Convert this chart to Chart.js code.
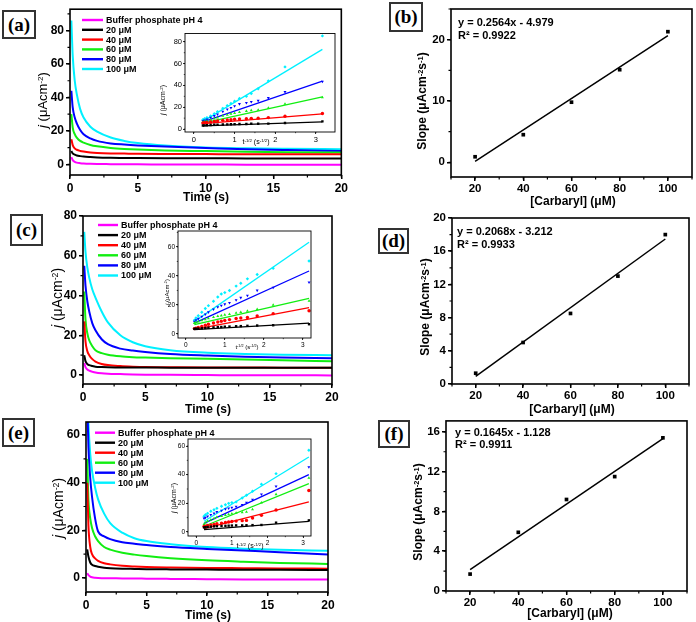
<!DOCTYPE html>
<html>
<head>
<meta charset="utf-8">
<script src="https://cdn.jsdelivr.net/npm/chart.js@4.4.1/dist/chart.umd.min.js"></script>
<style>
  body { margin: 0; width: 696px; height: 622px; background: #fff; position: relative; overflow: hidden;
         font-family: "Liberation Sans", Arial, sans-serif; color: #000; }
  canvas { position: absolute; }
  .lbl { position: absolute; box-sizing: border-box; border: 2px solid #333; background: #fff;
         font: bold 19px "Liberation Serif", "Times New Roman", serif;
         display: flex; align-items: center; justify-content: center; }
  .t { position: absolute; white-space: nowrap; transform: translate(-50%, -50%); font-weight: bold; font-size: 12px; z-index: 5; }
  .ty { transform: translate(-50%, -50%) rotate(-90deg); }
  .n { font-weight: normal; }
  .eq { position: absolute; font-weight: bold; font-size: 11px; line-height: 13px; white-space: nowrap; z-index: 5; }
  sup { font-size: 62%; position: relative; top: -0.45em; vertical-align: baseline; }
</style>
</head>
<body>

<!-- panel tags -->
<div class="lbl" style="left:2px;top:10px;width:34px;height:29px">(a)</div>
<div class="lbl" style="left:389px;top:2px;width:34px;height:30px">(b)</div>
<div class="lbl" style="left:10px;top:214px;width:33px;height:32px">(c)</div>
<div class="lbl" style="left:378px;top:228px;width:31px;height:26px">(d)</div>
<div class="lbl" style="left:2px;top:418px;width:33px;height:29px">(e)</div>
<div class="lbl" style="left:378px;top:420px;width:32px;height:28px">(f)</div>

<!-- axis titles -->
<div class="t ty n" style="left:42px;top:100px;font-size:13px"><i>j</i> (μAcm<sup>-2</sup>)</div>
<div class="t ty n" style="left:57px;top:298px;font-size:14px"><i>j</i> (μAcm<sup>-2</sup>)</div>
<div class="t ty n" style="left:58px;top:508px;font-size:14px"><i>j</i> (μAcm<sup>-2</sup>)</div>
<div class="t" style="left:206px;top:197px">Time (s)</div>
<div class="t" style="left:208px;top:409px">Time (s)</div>
<div class="t" style="left:208px;top:615px">Time (s)</div>

<div class="t ty" style="left:422px;top:101px">Slope (μAcm<sup>-2</sup>s<sup>-1</sup>)</div>
<div class="t ty" style="left:425px;top:307px">Slope (μAcm<sup>-2</sup>s<sup>-1</sup>)</div>
<div class="t ty" style="left:418px;top:512px">Slope (μAcm<sup>-2</sup>s<sup>-1</sup>)</div>
<div class="t" style="left:573px;top:201px">[Carbaryl] (μM)</div>
<div class="t" style="left:572px;top:409px">[Carbaryl] (μM)</div>
<div class="t" style="left:570px;top:613px">[Carbaryl] (μM)</div>

<!-- inset titles -->
<div class="t ty n" style="left:162px;top:100px;font-size:7px"><i>j</i> (μAcm<sup>-2</sup>)</div>
<div class="t n" style="left:256px;top:141px;font-size:7px">t<sup>-1/2</sup> (s<sup>-1/2</sup>)</div>
<div class="t ty n" style="left:167px;top:292px;font-size:6px"><i>j</i> (μAcm<sup>-2</sup>)</div>
<div class="t n" style="left:247px;top:347px;font-size:6px">t<sup>-1/2</sup> (s<sup>-1/2</sup>)</div>
<div class="t ty n" style="left:173px;top:498px;font-size:7px"><i>j</i> (μAcm<sup>-2</sup>)</div>
<div class="t n" style="left:250px;top:545px;font-size:7px">t<sup>-1/2</sup> (s<sup>-1/2</sup>)</div>

<!-- fit equations -->
<div class="eq" style="left:458px;top:16px">y = 0.2564x - 4.979<br>R² = 0.9922</div>
<div class="eq" style="left:457px;top:225px">y = 0.2068x - 3.212<br>R² = 0.9933</div>
<div class="eq" style="left:455px;top:426px;line-height:12px">y = 0.1645x - 1.128<br>R² = 0.9911</div>

<script>
// ---- data ----
const seriesLabels = ["Buffer phosphate pH 4", "20 μM", "40 μM", "60 μM", "80 μM", "100 μM"];
const seriesColors = ["#ff00ff", "#000000", "#ff0000", "#11ee11", "#0000ff", "#00f0ff"];

// chronoamperograms, j (μA cm-2) vs time (s); rows follow seriesLabels
const timeS = [0.1, 0.2, 0.35, 0.5, 0.75, 1, 1.5, 2, 3, 4, 5, 7, 10, 13, 16, 20];
const jA = [
  [4.3, 2.5, 1.5, 1.0, 0.7, 0.5, 0.3, 0.2, 0.1, 0, 0, -0.1, -0.1, -0.2, -0.2, -0.2],
  [8, 6.5, 5.8, 5.3, 4.9, 4.6, 4.3, 4.1, 3.9, 3.8, 3.7, 3.6, 3.6, 3.5, 3.5, 3.5],
  [15, 11.5, 9.5, 8.7, 8, 7.6, 7.1, 6.8, 6.5, 6.4, 6.3, 6.2, 6.1, 6, 6, 6],
  [30, 22, 18, 16, 14, 13, 11.6, 10.8, 9.8, 9.2, 8.8, 8.3, 7.9, 7.5, 7.2, 7],
  [44, 34, 28, 24.5, 20.5, 18, 15.5, 14, 12.5, 11.8, 11.3, 10.6, 9.8, 9, 8.5, 8],
  [86, 65, 50, 42, 33, 28, 22.5, 19.5, 16, 14, 12.7, 11.2, 10.1, 9.6, 9.3, 9]
];
const jC = [
  [6, 4, 2.8, 2.2, 1.7, 1.3, 0.9, 0.7, 0.5, 0.3, 0.2, 0.1, 0, -0.1, -0.1, -0.2],
  [10, 7, 5.5, 5, 4.6, 4.2, 4, 3.9, 3.8, 3.8, 3.8, 3.7, 3.7, 3.7, 3.7, 3.7],
  [27, 17, 12, 10, 8, 6.8, 5.6, 5, 4.5, 4.2, 4, 3.9, 3.8, 3.8, 3.7, 3.7],
  [42, 28, 21, 17.5, 14.5, 12.5, 11, 10.2, 9.4, 9, 8.8, 8.5, 8.2, 7.8, 7.4, 7],
  [55, 45, 37, 32, 26, 22.5, 18, 15.5, 13.3, 12.3, 11.6, 10.6, 9.8, 9.2, 8.8, 8.4],
  [72, 62, 54, 49, 43, 39, 32, 26.5, 20, 16.5, 14.5, 12.5, 11.2, 10.6, 10.2, 10]
];
const jE = [
  [2, 1.2, 0.6, 0.3, 0.1, 0, -0.1, -0.1, -0.2, -0.2, -0.3, -0.4, -0.5, -0.6, -0.6, -0.7],
  [12, 9, 6.5, 5.5, 5, 4.7, 4.3, 4.1, 3.9, 3.8, 3.7, 3.6, 3.5, 3.4, 3.4, 3.3],
  [40, 22, 13, 10, 8.2, 7.2, 6.2, 5.7, 5.1, 4.8, 4.6, 4.4, 4.2, 4.1, 4, 3.9],
  [50, 33, 25, 21, 17.5, 15.5, 13, 11.9, 10.6, 9.8, 9.2, 8.3, 7.4, 6.8, 6.3, 5.9],
  [75, 55, 42, 34, 25, 19.5, 17.5, 16.3, 15, 14.4, 13.8, 13, 12.2, 11.5, 10.8, 9.8],
  [80, 65, 52, 45, 38, 33, 27, 23, 19, 16.7, 15.5, 14.2, 13, 12.3, 11.8, 11.4]
];

// Cottrell insets, j vs t^-1/2 ; rows: 20, 40, 60, 80, 100 μM
const invT = [0.22, 0.26, 0.32, 0.41, 0.5, 0.58, 0.71, 0.82, 0.91, 1.0, 1.12, 1.29, 1.41, 1.58, 1.83, 2.24, 3.16];
const fitX = [0.22, 3.16];
const insA = [
  [3.3, 3.4, 3.5, 3.7, 3.9, 4, 4.2, 4.3, 4.4, 4.5, 4.6, 4.7, 4.8, 4.9, 5, 5.5, 7],
  [5.5, 5.8, 6, 6.5, 7, 7.5, 8, 8.3, 8.6, 9, 9.3, 9.5, 9.8, 10, 10.5, 11.8, 14.3],
  [6.5, 7, 7.5, 8.5, 9.5, 10.5, 12, 13, 14, 14.5, 15.5, 16.5, 17.2, 17.6, 19.3, 23, 29],
  [7.5, 8, 9, 10.5, 12, 13.5, 16, 18, 19.5, 21, 23, 24, 25, 26, 28.5, 34, 43.5],
  [8.5, 9.5, 10.5, 12, 14, 16, 19, 21.5, 23.5, 25.5, 28, 30, 32.5, 37, 44, 57, 85.4]
];
const fitA = [[3, 6.6], [5, 14], [5.5, 29.5], [6.5, 44], [7, 73]];
const insC = [
  [3.5, 3.6, 3.7, 3.9, 4.1, 4.3, 4.5, 4.7, 4.8, 5, 5.1, 5.3, 5.4, 5.6, 5.8, 6, 6.7],
  [3.7, 4, 4.5, 5.2, 6, 6.7, 7.5, 8.2, 8.8, 9.3, 9.9, 10.6, 11, 11.3, 12.4, 14, 16],
  [7.5, 8, 8.5, 9.3, 10, 10.7, 11.5, 12.2, 12.7, 13.2, 13.7, 14.5, 15, 15.9, 17, 20, 22.8],
  [8.5, 9.5, 10.5, 12, 13.5, 15, 17, 18.5, 19.5, 20.5, 21.5, 23.4, 25, 26.4, 30, 32, 35.6],
  [9.5, 11, 12.5, 15, 17.5, 19.5, 22.5, 25.5, 27.5, 28.5, 30, 33, 35, 38, 41, 45.3, 50.3]
];
const fitC = [[3, 7.4], [3.2, 18.2], [6.5, 24.6], [7.5, 43.4], [8.5, 63.2]];
const insE = [
  [3.2, 3.3, 3.5, 3.7, 3.9, 4, 4.2, 4.3, 4.4, 4.5, 4.6, 4.6, 4.7, 4.8, 4.9, 6.5, 8.1],
  [3.8, 4, 4.5, 4.9, 5.3, 5.7, 6.2, 6.6, 7, 7.3, 7.6, 7.9, 8.1, 9.8, 11.6, 15.3, 29],
  [5.5, 6.5, 7.5, 8.5, 9.5, 10.3, 11, 11.7, 12.3, 12.8, 13.3, 13.7, 14, 15.8, 20.5, 26.3, 37.7],
  [9.5, 10, 11, 12, 13, 14, 15, 16, 16.5, 17, 17.7, 19, 20.5, 22.6, 26.3, 31.9, 45.3],
  [11, 12, 13, 14.5, 15.5, 16.5, 18, 19, 20, 20.5, 21, 23.7, 25.6, 28.4, 33.3, 40.7, 57]
];
const fitE = [[1.6, 7.4], [2.3, 21], [4, 33.7], [6, 40], [7.5, 52.3]];

// calibration: slope vs [Carbaryl]
const conc = [20, 40, 60, 80, 100];
const fitConc = [20, 100];
const slopeB = [0.9, 4.5, 9.8, 15.1, 21.3];
const lineB = [0.15, 20.66];
const slopeD = [1.3, 5.0, 8.5, 13.0, 18.0];
const lineD = [0.92, 17.47];
const slopeF = [1.7, 5.9, 9.2, 11.5, 15.4];
const lineF = [2.16, 15.32];

// tick labels
const timeTicks = [0, 5, 10, 15, 20];
const jTicks80 = [0, 20, 40, 60, 80];
const jTicks60 = [0, 20, 40, 60];
const invTicks = [0, 1, 2, 3];
const concTicks = [20, 40, 60, 80, 100];
const slopeTicksB = [0, 10, 20];
const slopeTicksD = [0, 4, 8, 12, 16, 20];
const slopeTicksF = [0, 4, 8, 12, 16];

// ---- helpers ----
const framePlugin = {
  id: 'frame',
  beforeDatasetsDraw(chart, args, o) {
    if (!o.fill) return;
    const a = chart.chartArea;
    chart.ctx.fillStyle = '#fff';
    chart.ctx.fillRect(a.left, a.top, a.width, a.height);
  },
  afterDraw(chart, args, o) {
    const { ctx, chartArea: a, scales: { x, y } } = chart;
    ctx.save();
    ctx.strokeStyle = '#000';
    ctx.lineWidth = o.lw;
    ctx.strokeRect(a.left, a.top, a.width, a.height);
    ctx.lineWidth = o.mlw;
    ctx.beginPath();
    for (let v = Math.ceil(x.min / o.minorX) * o.minorX; v <= x.max + 1e-9; v += o.minorX) {
      const px = x.getPixelForValue(v);
      ctx.moveTo(px, a.bottom); ctx.lineTo(px, a.bottom + o.ml);
    }
    for (let v = Math.ceil(y.min / o.minorY) * o.minorY; v <= y.max + 1e-9; v += o.minorY) {
      const py = y.getPixelForValue(v);
      ctx.moveTo(a.left, py); ctx.lineTo(a.left - o.ml, py);
    }
    ctx.stroke();
    ctx.restore();
  }
};

const keyPlugin = {
  id: 'seriesKey',
  afterDraw(chart, args, o) {
    if (!o.show) return;
    const ctx = chart.ctx;
    ctx.save();
    ctx.font = o.font;
    ctx.textBaseline = 'middle';
    chart.data.datasets.forEach((d, i) => {
      const yy = o.y + i * o.dy;
      ctx.strokeStyle = d.borderColor;
      ctx.lineWidth = 2.4;
      ctx.beginPath(); ctx.moveTo(o.x, yy); ctx.lineTo(o.x + o.len, yy); ctx.stroke();
      ctx.fillStyle = '#000';
      ctx.fillText(d.label, o.x + o.len + 3, yy + 0.5);
    });
    ctx.restore();
  }
};

function place(left, top, w, h) {
  const c = document.createElement('canvas');
  c.width = w; c.height = h;
  c.style.left = left + 'px'; c.style.top = top + 'px';
  document.body.appendChild(c);
  return c;
}

function axis(r, isX, size, font, tl, pad) {
  return {
    type: 'linear', min: r.min, max: r.max,
    afterBuildTicks: s => { s.ticks = r.ticks.map(v => ({ value: v })); },
    afterFit: s => { if (isX) s.height = size; else s.width = size; },
    grid: { drawOnChartArea: false, color: '#000', lineWidth: tl > 3 ? 1.5 : 0.8, tickLength: tl },
    border: { display: false },
    ticks: { color: '#000', font: font, padding: pad, maxRotation: 0, autoSkip: false }
  };
}

function build(cv, area, datasets, xr, yr, st, key) {
  const [l, t, r, b] = area;
  return new Chart(cv, {
    type: 'scatter',
    data: { datasets },
    options: {
      responsive: false, animation: false, events: [],
      layout: { autoPadding: false, padding: { left: 0, top: t, right: cv.width - r, bottom: 0 } },
      scales: {
        x: axis(xr, true, cv.height - b, st.font, st.tl, st.xpad),
        y: axis(yr, false, l, st.font, st.tl, st.ypad)
      },
      plugins: {
        legend: { display: false }, tooltip: { enabled: false },
        frame: st.frame,
        seriesKey: key || { show: false }
      }
    },
    plugins: [framePlugin, keyPlugin]
  });
}

const mainStyle = {
  font: { family: 'Liberation Sans', size: 12, weight: 'bold' }, tl: 4, xpad: 2, ypad: 2,
  frame: { lw: 1.6, mlw: 1.2, ml: 2.5, minorX: 2.5, minorY: 10 }
};
const calStyle = (minorY) => ({
  font: { family: 'Liberation Sans', size: 11.5, weight: 'bold' }, tl: 4, xpad: 1, ypad: 2,
  frame: { lw: 1.6, mlw: 1.2, ml: 2.5, minorX: 10, minorY: minorY }
});
const insetStyle = (size) => ({
  font: { family: 'Liberation Sans', size: size }, tl: 2, xpad: 1, ypad: 1,
  frame: { lw: 0.9, mlw: 0.7, ml: 1.2, minorX: 0.5, minorY: 10, fill: true }
});

function curveSets(rows) {
  return rows.map((vals, i) => ({
    label: seriesLabels[i],
    data: timeS.map((t, k) => ({ x: t, y: vals[k] })),
    showLine: true, pointRadius: 0, borderColor: seriesColors[i], borderWidth: 2,
    cubicInterpolationMode: 'monotone'
  }));
}

const markerStyles = [
  { s: 'rect', rot: 0 }, { s: 'circle', rot: 0 }, { s: 'triangle', rot: 0 },
  { s: 'triangle', rot: 180 }, { s: 'rectRot', rot: 0 }
];
function insetSets(rows, fits) {
  const out = [];
  rows.forEach((vals, i) => {
    const col = seriesColors[i + 1];
    out.push({
      data: invT.map((x, k) => ({ x, y: vals[k] })),
      showLine: false, pointStyle: markerStyles[i].s, rotation: markerStyles[i].rot,
      pointRadius: 1.7, backgroundColor: col, borderColor: col, borderWidth: 0
    });
    out.push({
      data: fitX.map((x, k) => ({ x, y: fits[i][k] })),
      showLine: true, pointRadius: 0, borderColor: col, borderWidth: 1.3
    });
  });
  return out;
}

function calSets(pts, line) {
  return [
    { data: conc.map((x, k) => ({ x, y: pts[k] })), showLine: false, pointStyle: 'rect',
      pointRadius: 2.6, backgroundColor: '#000', borderColor: '#000', borderWidth: 0 },
    { data: fitConc.map((x, k) => ({ x, y: line[k] })), showLine: true, pointRadius: 0,
      borderColor: '#000', borderWidth: 1.5 }
  ];
}

const keyFont = 'bold 9px "Liberation Sans", Arial, sans-serif';

// ---- main transient panels ----
build(place(0, 0, 350, 205), [70, 5, 342, 175], curveSets(jA),
  { min: 0, max: 20, ticks: timeTicks }, { min: -6.4, max: 92.8, ticks: jTicks80 }, mainStyle,
  { show: true, x: 82, y: 20, dy: 9.8, len: 21, font: keyFont });
build(place(0, 200, 350, 212), [83, 16, 332, 184], curveSets(jC),
  { min: 0, max: 20, ticks: timeTicks }, { min: -4.5, max: 80, ticks: jTicks80 }, mainStyle,
  { show: true, x: 98, y: 25, dy: 10.1, len: 20, font: keyFont });
build(place(0, 412, 350, 200), [86, 10, 328, 180], curveSets(jE),
  { min: 0, max: 20, ticks: timeTicks }, { min: -5.9, max: 65.5, ticks: jTicks60 }, mainStyle,
  { show: true, x: 95, y: 20.7, dy: 10, len: 20, font: keyFont });

// ---- calibration panels ----
build(place(390, 0, 306, 205), [61, 9, 302, 177], calSets(slopeB, lineB),
  { min: 10, max: 110, ticks: concTicks }, { min: -2.4, max: 25, ticks: slopeTicksB }, calStyle(5));
build(place(390, 205, 306, 200), [62, 13, 299, 179], calSets(slopeD, lineD),
  { min: 10, max: 110, ticks: concTicks }, { min: 0, max: 20, ticks: slopeTicksD }, calStyle(2));
build(place(385, 412, 311, 200), [61, 5, 302, 179], calSets(slopeF, lineF),
  { min: 10, max: 110, ticks: concTicks }, { min: 0, max: 17.1, ticks: slopeTicksF }, calStyle(2));

// ---- insets ----
build(place(150, 28, 190, 125), [35, 5, 185, 104], insetSets(insA, fitA),
  { min: -0.22, max: 3.47, ticks: invTicks }, { min: -2.7, max: 87.6, ticks: jTicks80 }, insetStyle(7.5));
build(place(150, 226, 166, 128), [28, 5, 161, 112], insetSets(insC, fitC),
  { min: -0.2, max: 3.21, ticks: invTicks }, { min: -2.8, max: 71, ticks: jTicks60 }, insetStyle(6.5));
build(place(155, 434, 160, 122), [33, 5, 156, 102], insetSets(insE, fitE),
  { min: -0.23, max: 3.22, ticks: invTicks }, { min: -2.8, max: 64.9, ticks: jTicks60 }, insetStyle(6.5));
</script>
</body>
</html>
